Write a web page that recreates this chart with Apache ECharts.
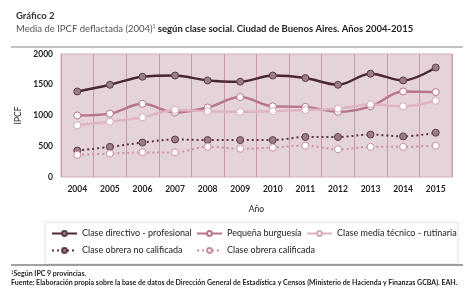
<!DOCTYPE html>
<html><head><meta charset="utf-8">
<script src="https://cdn.jsdelivr.net/npm/echarts@6/dist/echarts.min.js"></script>
<style>html,body{margin:0;padding:0;background:#fff}#c{width:469px;height:298px}</style>
</head><body><div id="c"></div>
<script>
const years = ['2004','2005','2006','2007','2008','2009','2010','2011','2012','2013','2014','2015'];
const directivo = [1390,1500,1630,1650,1570,1550,1650,1610,1500,1680,1570,1780];
const pequena = [1000,1030,1190,1050,1130,1300,1150,1140,1060,1150,1390,1380];
const media = [840,900,970,1090,1070,1060,1070,1090,1110,1180,1150,1240];
const obreraNo = [430,490,560,610,600,600,600,650,650,690,660,720];
const obreraCal = [360,380,400,400,490,460,480,510,450,490,490,510];
const yTicks = [0,500,1000,1500,2000];

const F = 'Lato, "Open Sans", sans-serif';
const names = ['Clase directivo - profesional','Pequeña burguesía','Clase media técnico - rutinaria','Clase obrera no calificada','Clase obrera calificada'];

function mk(name, data, lineColor, markFill, markBorder, dotted) {
  return {
    name, type: 'line', data, smooth: 0.35, symbol: 'circle', symbolSize: 7,
    lineStyle: {color: lineColor, width: dotted ? 2 : 2.4, type: dotted ? [2,3] : 'solid'},
    itemStyle: {color: markFill, borderColor: markBorder, borderWidth: 1},
    emphasis: {disabled: true}
  };
}
const series = [
  mk(names[0], directivo, '#4a2733', '#9a7d88', '#5e3c48', false),
  mk(names[1], pequena, '#b87489', '#ffffff', '#b87489', false),
  mk(names[2], media, '#dfb3c1', '#ffffff', '#d7aab9', false),
  mk(names[3], obreraNo, '#5a3442', '#9a7d88', '#5e3c48', true),
  mk(names[4], obreraCal, '#cc8fa2', '#ffffff', '#cc8fa2', true)
];

function leg(name, left, top) {
  return {data:[name], left, top, itemWidth: 25, itemHeight: 6, itemGap: 4, padding: 0,
    textStyle:{fontFamily:F, fontSize:9, color:'#222'}, selectedMode:false};
}

const chart = echarts.init(document.getElementById('c'));
chart.setOption({
  animation: false,
  textStyle: {fontFamily: F},
  title: [
    {text: 'Gráfico 2', left: 11, top: 6, textStyle:{fontFamily:F, fontSize:9.5, fontWeight:'bold', color:'#333'}},
    {text: '{a|Media de IPCF deflactada (2004)}{s|1}{b| según clase social. Ciudad de Buenos Aires. Años 2004-2015}', left: 11, top: 19,
      textStyle:{fontWeight:'normal', rich:{
        a:{fontFamily:F, fontSize:9.5, color:'#555', fontWeight:'normal'},
        s:{fontFamily:F, fontSize:5, color:'#555', fontWeight:'normal', verticalAlign:'top', padding:[0,0,5,0]},
        b:{fontFamily:F, fontSize:9.5, color:'#222', fontWeight:'bold'}
      }}}
  ],
  legend: [
    leg(names[0], 51, 229), leg(names[1], 196, 229), leg(names[2], 306, 229),
    leg(names[3], 51, 246), leg(names[4], 196, 246)
  ],
  grid: {left: 61, right: 17, top: 54, bottom: 121, show: true, backgroundColor: '#e4d4d9', borderColor: '#d2aebb', borderWidth: 1},
  xAxis: {
    type: 'category', data: years, boundaryGap: true,
    name: 'Año', nameLocation: 'middle', nameGap: 28,
    nameTextStyle: {fontFamily:F, fontSize:8.5, color:'#222'},
    axisLine: {show: false}, axisTick: {show: false},
    splitLine: {show: true, lineStyle: {color: '#c999a9', width: 1}},
    axisLabel: {fontFamily:F, fontSize:8.5, fontWeight:'bold', color:'#222', margin: 8}
  },
  yAxis: {
    type: 'value', min: yTicks[0], max: yTicks[yTicks.length-1], interval: 500,
    name: 'IPCF', nameLocation: 'middle', nameGap: 31, nameRotate: 90,
    nameTextStyle: {fontFamily:F, fontSize:8.5, color:'#222'},
    axisLine: {show: false}, axisTick: {show: false}, splitLine: {show: false},
    axisLabel: {fontFamily:F, fontSize:8.5, fontWeight:'bold', color:'#222', margin: 8, formatter: v => String(v)}
  },
  graphic: [
    {type:'line', shape:{x1:11, y1:47, x2:463, y2:47}, style:{stroke:'#8a8a8a', lineWidth:1}},
    {type:'rect', shape:{x:45, y:222, width:413, height:42}, style:{fill:'none', stroke:'#ecdde2', lineWidth:1}},
    {type:'line', shape:{x1:11, y1:265, x2:463, y2:265}, style:{stroke:'#444', lineWidth:1}},
    {type:'text', left: 11, top: 270, style:{text:'{s|1}Según IPC 9 provincias.', fill:'#222', font:'bold 7px ' + F,
      rich:{s:{fontSize:4.5, verticalAlign:'top', fill:'#222'}}}},
    {type:'text', left: 11, top: 279, style:{text:'Fuente: Elaboración propia sobre la base de datos de Dirección General de Estadística y Censos (Ministerio de Hacienda y Finanzas GCBA). EAH.', fill:'#222', font:'bold 7px ' + F}}
  ],
  series
});
</script></body></html>
